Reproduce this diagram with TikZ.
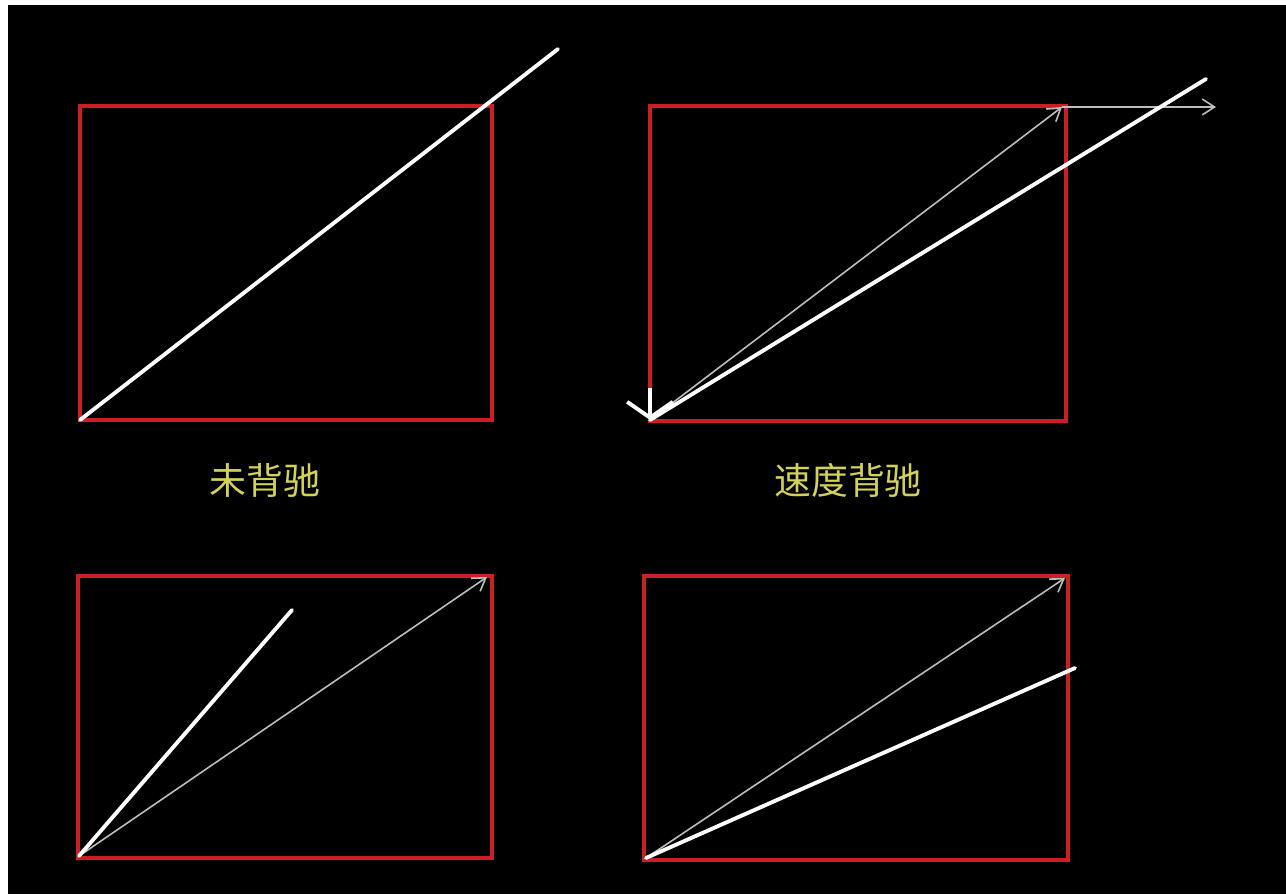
\documentclass[tikz,border=0pt]{standalone}
\usepackage{fontspec}
\usepackage{xcolor}
\usetikzlibrary{arrows.meta}
\newfontfamily\cjk{Noto Sans CJK SC}
\definecolor{boxred}{RGB}{205, 30, 40}
\definecolor{labelyellow}{RGB}{210, 210, 90}
\definecolor{trendgray}{RGB}{190, 190, 190}

\begin{document}
\begin{tikzpicture}[x=0.02cm, y=-0.02cm,
    frame/.style={draw=boxred, line width=2.6pt},
    price/.style={draw=white, line width=2.2pt, line cap=round},
    trend/.style={draw=trendgray, line width=0.9pt, -{Straight Barb[length=7pt, width=9pt]}},
    caption/.style={text=labelyellow, font=\cjk\fontsize{21}{24}\selectfont}]
    \useasboundingbox (0,0) rectangle (1286,894);
    \fill[black] (8,5) rectangle (1286,894);

    % top left
    \draw[frame] (80,106) rectangle (492,420);
    \coordinate (a0) at (80,420);
    \coordinate (a1) at (558,49);
    \draw[price] (a0) -- (a1);
    \node[caption] (wbc) at (265,480) {未背驰};

    % top right
    \draw[frame] (650,106) rectangle (1066,421);
    \coordinate (b0) at (650,420);
    \coordinate (b1) at (1062,107);
    \coordinate (b2) at (1216,107);
    \coordinate (b3) at (1206,79);
    \coordinate (bd) at (650,388);
    \draw[trend] (b0) -- (b1);
    \draw[trend] (b1) -- (b2);
    \draw[price] (b0) -- (b3);
    \draw[draw=white, line width=2.2pt, -{Straight Barb[length=9pt, width=26pt]}] (bd) -- (b0);
    \node[caption] (sdbc) at (848,480) {速度背驰};

    % bottom left
    \draw[frame] (78,576) rectangle (492,858);
    \coordinate (c0) at (79,856);
    \coordinate (c1) at (292,610);
    \coordinate (c2) at (487,577);
    \draw[trend] (c0) -- (c2);
    \draw[price] (c0) -- (c1);

    % bottom right
    \draw[frame] (644,576) rectangle (1068,860);
    \coordinate (d0) at (646,858);
    \coordinate (d1) at (1065,578);
    \coordinate (d2) at (1075,668);
    \draw[trend] (d0) -- (d1);
    \draw[price] (d0) -- (d2);
\end{tikzpicture}
\end{document}
